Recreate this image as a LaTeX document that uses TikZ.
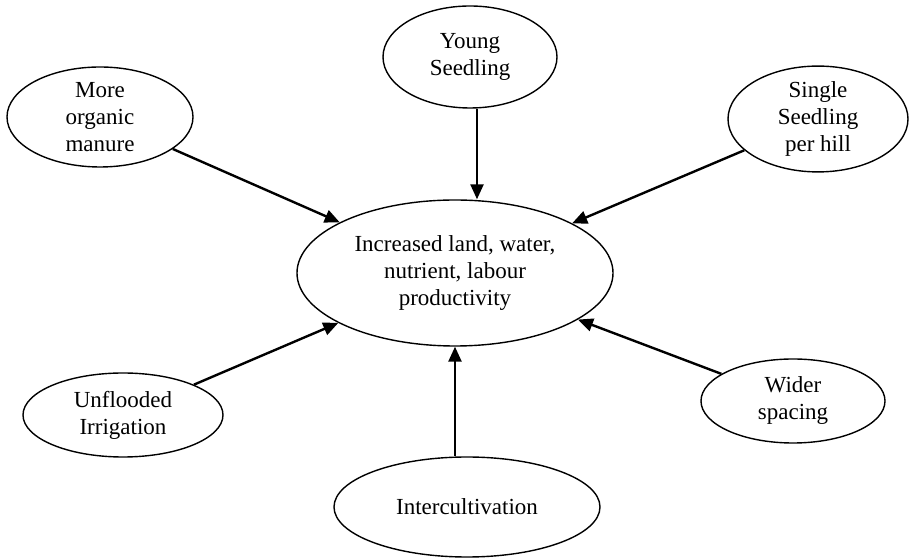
\documentclass[tikz,border=0pt]{standalone}
\usepackage{fontspec}
\setmainfont{Liberation Serif}
\usetikzlibrary{shapes.geometric, arrows.meta, positioning}
\tikzstyle{arrow} = [line width=1.2pt,-{Triangle[length=7.5pt,width=6.5pt]}]
\tikzstyle{bubble} = [ellipse, draw=black, line width=0.7pt, inner sep=0pt, text centered, align=center, font=\fontsize{11.5}{13.5}\selectfont]

\begin{document}
\begin{tikzpicture}[x=0.5pt, y=-0.5pt]
\useasboundingbox (0,0) rectangle (910,560);
% Placement of nodes
\node (main) [bubble, minimum width=158pt, minimum height=73pt] at (455,273) {Increased land, water,\\ nutrient, labour\\ productivity};
\node (manure) [bubble, minimum width=93pt, minimum height=50pt] at (100,117) {More\\ organic\\ manure};
\node (young) [bubble, minimum width=87pt, minimum height=51pt] at (470,57) {Young\\ Seedling};
\node (single) [bubble, minimum width=90pt, minimum height=51pt] at (818,119) {Single\\ Seedling\\ per hill};
\node (unflooded) [bubble, minimum width=100pt, minimum height=42pt] at (123,415) {Unflooded\\ Irrigation};
\node (wider) [bubble, minimum width=92pt, minimum height=42pt] at (793,401) {Wider\\ spacing};
\node (inter) [bubble, minimum width=133pt, minimum height=50pt] at (467,507) {Intercultivation};

% Placement of edges
\draw [arrow] (manure) -- (main);
\draw [arrow] (young.south -| 477,0) -- (main.north -| 477,0);
\draw [arrow] (single) -- (main);
\draw [arrow] (unflooded) -- (main);
\draw [arrow] (wider) -- (main);
\draw [arrow] (inter.north -| main.south) -- (main.south);

\end{tikzpicture}
\end{document}
